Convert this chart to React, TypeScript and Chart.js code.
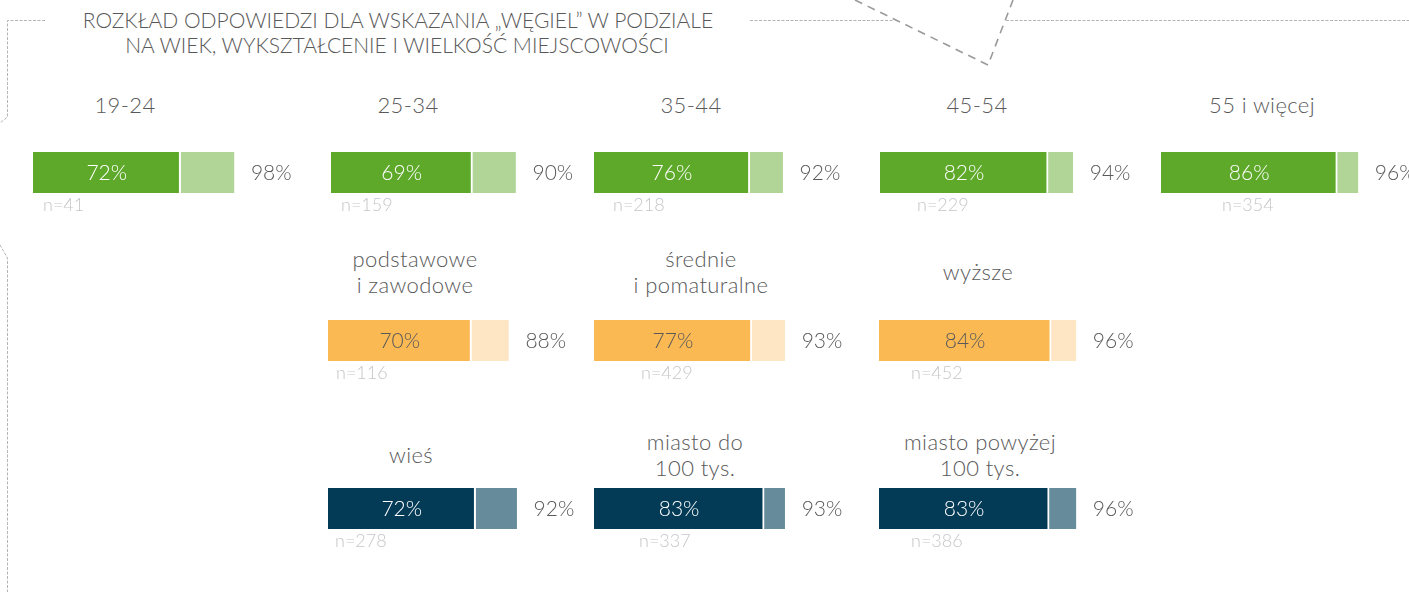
import React, { useEffect, useRef } from "react";
import { Chart, registerables } from "chart.js";

Chart.register(...registerables);

// ---------- data ----------
const titleLines = [
  "ROZKŁAD ODPOWIEDZI DLA WSKAZANIA „WĘGIEL” W PODZIALE",
  "NA WIEK, WYKSZTAŁCENIE I WIELKOŚĆ MIEJSCOWOŚCI",
];

const ageGroups = ["19-24", "25-34", "35-44", "45-54", "55 i więcej"];
const ageCoal = [72, 69, 76, 82, 86];
const ageTotal = [98, 90, 92, 94, 96];
const ageN = [41, 159, 218, 229, 354];

const eduGroups = ["podstawowe\ni zawodowe", "średnie\ni pomaturalne", "wyższe"];
const eduCoal = [70, 77, 84];
const eduTotal = [88, 93, 96];
const eduN = [116, 429, 452];

const placeGroups = ["wieś", "miasto do\n100 tys.", "miasto powyżej\n100 tys."];
const placeCoal = [72, 83, 83];
const placeTotal = [92, 93, 96];
const placeN = [278, 337, 386];

// ---------- layout / style ----------
const FONT = "Lato, 'DejaVu Sans', sans-serif";
const WEIGHT = 300;
const TEXT = "#595959";
const NCOLOR = "#c6c6c6";
const BAR_W = 205; // px for 100%
const BAR_H = 41;
const CANVAS_W = 300;
const CANVAS_H = 72;

const rows = [
  {
    groups: ageGroups, coal: ageCoal, total: ageTotal, n: ageN,
    barX: [33, 331, 594, 880, 1161], barY: 152,
    nX: [43, 341, 613, 917, 1222],
    titleX: [125, 408, 691, 977, 1262], titleY: 105,
    dark: "#5ea92a", light: "#b1d596", inner: "#ffffff",
  },
  {
    groups: eduGroups, coal: eduCoal, total: eduTotal, n: eduN,
    barX: [328, 594, 879], barY: 320,
    nX: [336, 641, 911],
    titleX: [415, 701, 978], titleY: 272,
    dark: "#fbb954", light: "#fee5c4", inner: "#595959",
  },
  {
    groups: placeGroups, coal: placeCoal, total: placeTotal, n: placeN,
    barX: [328, 594, 879], barY: 488,
    nX: [335, 639, 911],
    titleX: [411, 695, 980], titleY: 455,
    dark: "#033a55", light: "#668c9c", inner: "#ffffff",
  },
];

const labelPlugin = {
  id: "barLabels",
  afterDatasetsDraw(chart: any, _args: any, opts: any) {
    const ctx = chart.ctx;
    const xs = chart.scales.x;
    const bar = chart.getDatasetMeta(0).data[0];
    const cy = bar.y;
    ctx.save();
    ctx.textBaseline = "middle";
    ctx.font = `${WEIGHT} 21px ${FONT}`;
    ctx.textAlign = "center";
    ctx.fillStyle = opts.inner;
    const x0 = xs.getPixelForValue(0);
    const x1 = xs.getPixelForValue(opts.value);
    ctx.fillText(`${opts.value}%`, (x0 + x1) / 2, cy + 1);
    ctx.textAlign = "left";
    ctx.fillStyle = TEXT;
    ctx.fillText(`${opts.total}%`, xs.getPixelForValue(opts.total) + 17, cy + 1);
    ctx.font = `${WEIGHT} 18px ${FONT}`;
    ctx.fillStyle = NCOLOR;
    ctx.fillText(`n=${opts.n}`, opts.nOffset, chart.chartArea.bottom + 12);
    ctx.restore();
  },
};

function MiniBar(props: {
  value: number; total: number; n: number; x: number; y: number; nx: number;
  dark: string; light: string; inner: string;
}) {
  const ref = useRef<HTMLCanvasElement>(null);
  useEffect(() => {
    const chart = new Chart(ref.current as HTMLCanvasElement, {
      type: "bar",
      data: {
        labels: [""],
        datasets: [
          {
            data: [props.value],
            backgroundColor: props.dark,
            borderColor: "#ffffff",
            borderWidth: { left: 0, top: 0, bottom: 0, right: 2 },
            borderSkipped: false,
          },
          {
            data: [props.total - props.value],
            backgroundColor: props.light,
            borderWidth: 0,
          },
        ],
      },
      options: {
        animation: false,
        responsive: false,
        events: [],
        indexAxis: "y",
        layout: { padding: { left: 0, top: 0, right: CANVAS_W - BAR_W, bottom: CANVAS_H - BAR_H } },
        datasets: { bar: { categoryPercentage: 1, barPercentage: 1 } },
        plugins: {
          legend: { display: false },
          tooltip: { enabled: false },
          barLabels: {
            value: props.value, total: props.total, n: props.n,
            inner: props.inner, nOffset: props.nx - props.x,
          },
        } as any,
        scales: {
          x: { stacked: true, min: 0, max: 100, display: false },
          y: { stacked: true, display: false },
        },
      } as any,
      plugins: [labelPlugin],
    });
    return () => chart.destroy();
  }, []);
  return (
    <canvas
      ref={ref}
      width={CANVAS_W}
      height={CANVAS_H}
      style={{ position: "absolute", left: props.x, top: props.y, width: CANVAS_W, height: CANVAS_H }}
    />
  );
}

function Label(props: { x: number; y: number; text: string; size: number; lh: number; ls?: number }) {
  return (
    <div
      style={{
        position: "absolute", left: props.x, top: props.y,
        transform: "translate(-50%, -50%)", whiteSpace: "pre", textAlign: "center",
        fontFamily: FONT, fontWeight: WEIGHT, fontSize: props.size,
        lineHeight: `${props.lh}px`, color: TEXT, letterSpacing: props.ls ?? 0,
      }}
    >
      {props.text}
    </div>
  );
}

export default function App() {
  return (
    <div
      style={{
        position: "absolute", left: 0, top: 0, width: 1409, height: 592,
        overflow: "hidden", background: "#ffffff",
      }}
    >
      <svg width={1409} height={592} style={{ position: "absolute", left: 0, top: 0 }}>
        <g fill="none" stroke="#b4b4b4" strokeWidth={1} strokeDasharray="3 1.5">
          <polyline points="45,20.5 7.5,20.5 7.5,117 0,123" />
          <polyline points="0,245 7.5,258 7.5,592" />
          <line x1={750} y1={20.5} x2={894} y2={20.5} />
          <line x1={1006} y1={20.5} x2={1409} y2={20.5} />
        </g>
        <polyline
          points="855,0 988,65 1013,0"
          fill="none" stroke="#9a9a9a" strokeWidth={1.6} strokeDasharray="8 6"
        />
      </svg>
      <Label x={398} y={20} text={titleLines[0]} size={21} lh={24} />
      <Label x={397} y={45} text={titleLines[1]} size={21} lh={24} />
      {rows.map((r, ri) =>
        r.groups.map((g, i) => (
          <React.Fragment key={`${ri}-${i}`}>
            <Label x={r.titleX[i]} y={r.titleY} text={g} size={22} lh={26} ls={0.4} />
            <MiniBar
              value={r.coal[i]} total={r.total[i]} n={r.n[i]}
              x={r.barX[i]} y={r.barY} nx={r.nX[i]}
              dark={r.dark} light={r.light} inner={r.inner}
            />
          </React.Fragment>
        ))
      )}
    </div>
  );
}
